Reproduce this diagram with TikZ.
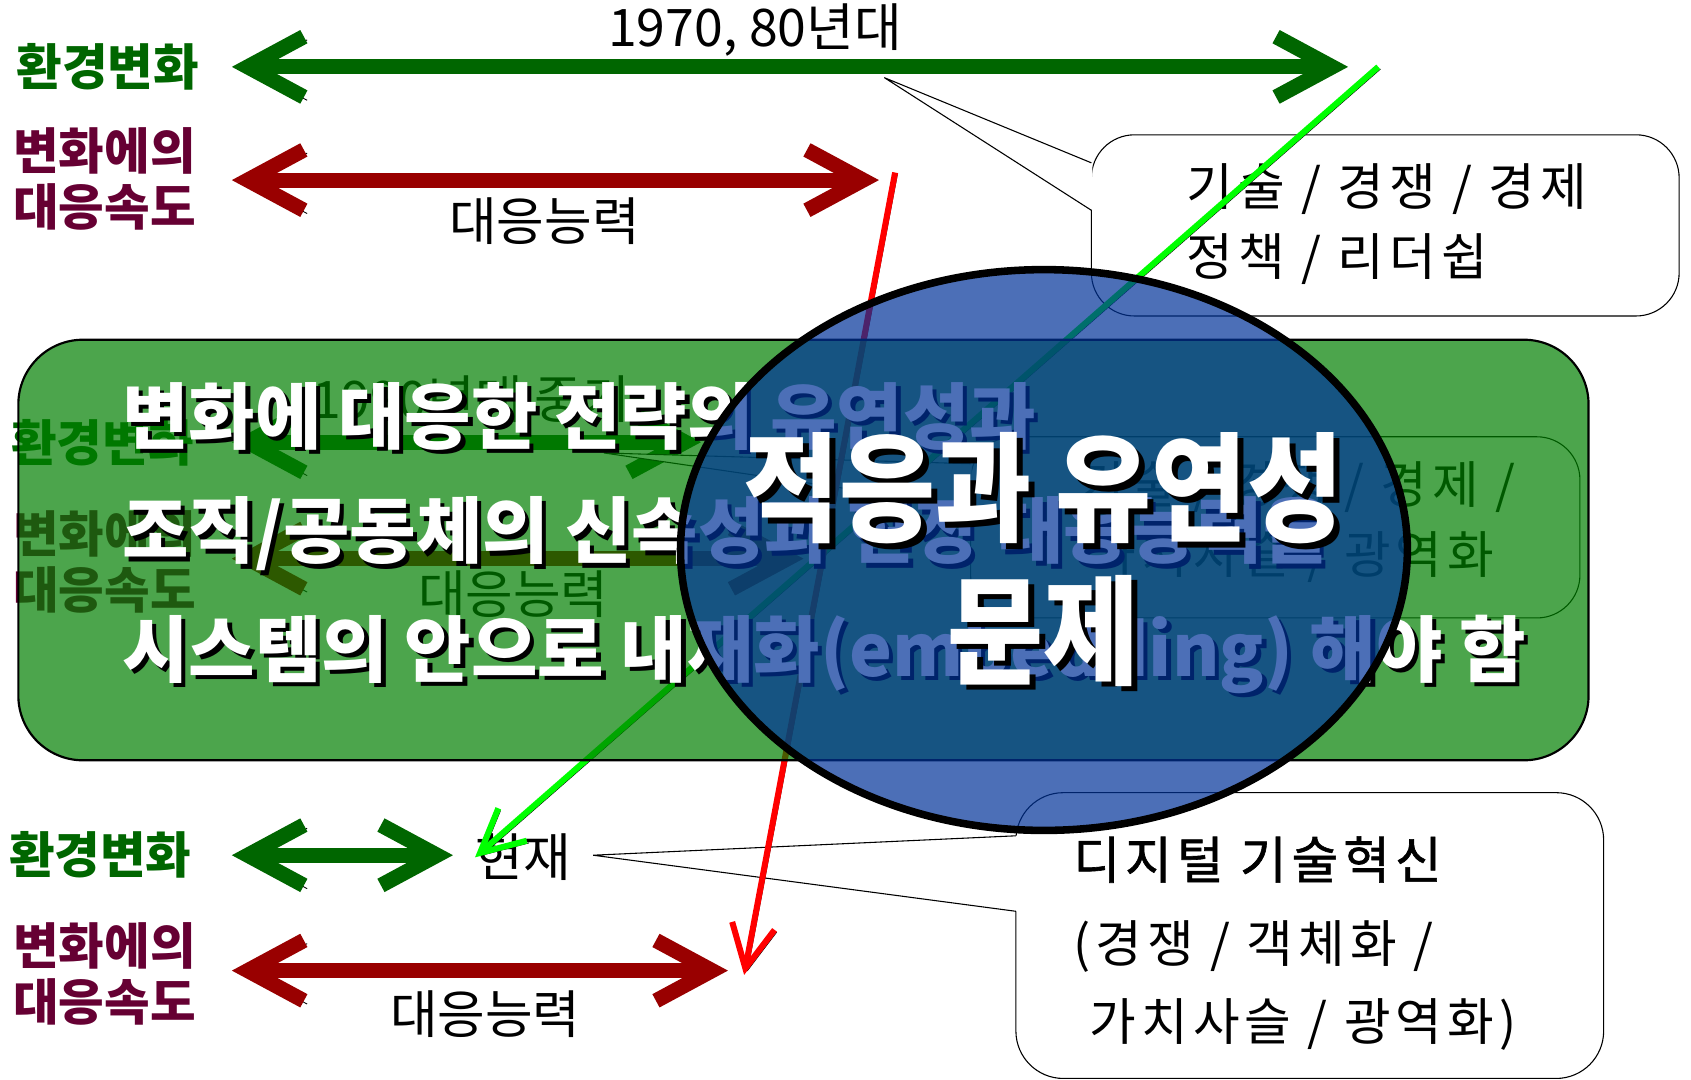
\documentclass[tikz,border=0pt]{standalone}
\usepackage{fontspec}
\usepackage{tikz}
\usetikzlibrary{arrows.meta}

\newfontfamily\kr{Noto Sans CJK KR}
\newfontfamily\krnote[LetterSpace=10]{Noto Sans CJK KR}
\newfontfamily\krnotebold[LetterSpace=10,FakeBold=1.2]{Noto Sans CJK KR}
\newfontfamily\krhead[FakeStretch=0.88]{Noto Sans CJK KR}

\definecolor{envgreen}{RGB}{0,102,0}
\definecolor{speedred}{RGB}{102,0,51}
\definecolor{abilityred}{RGB}{153,0,0}
\definecolor{panelgreen}{RGB}{0,128,0}
\definecolor{ovalblue}{RGB}{0,51,153}
\definecolor{limeline}{RGB}{0,255,0}
\definecolor{redline}{RGB}{255,0,0}

% white text with a black drop shadow
\newcommand{\shadowtext}[5]{%
  \node[#3, text=black, xshift=#4, yshift=-#4] (#1s) at #2 {#5};
  \node[#3, text=white] (#1) at #2 {#5};}

\tikzset{
  side label/.style={font=\kr\bfseries\fontsize{23pt}{26pt}\selectfont, inner sep=0pt, align=center},
  time label/.style={font=\kr\fontsize{24pt}{26pt}\selectfont, inner sep=0pt},
  note text/.style={font=\krnote\fontsize{23.5pt}{26pt}\selectfont, inner sep=0pt, anchor=west},
  note head/.style={font=\krnotebold\fontsize{23.5pt}{26pt}\selectfont, inner sep=0pt, anchor=west},
  span arrow/.style={line width=7pt, >={Straight Barb[length=26pt,width=28pt]}, <->,
    preaction={draw=black, transform canvas={shift={(1.5pt,-1.5pt)}}}},
  pointer line/.style={line width=2.8pt, ->, >={Straight Barb[length=20pt,width=20pt]},
    preaction={draw=black, transform canvas={shift={(1pt,-1pt)}}}},
  callout box/.style={draw=black, line width=0.5pt, fill=white, rounded corners=20pt},
  callout tail/.style={draw=black, line width=0.5pt},
  panel/.style={draw=black, line width=1pt, fill=panelgreen, fill opacity=0.7, rounded corners=30pt},
  oval/.style={draw=black, line width=3.5pt, fill=ovalblue, fill opacity=0.7},
  panel text/.style={font=\kr\bfseries\fontsize{33.5pt}{36pt}\selectfont, inner sep=0pt, anchor=west},
  oval text/.style={font=\krhead\bfseries\fontsize{55pt}{60pt}\selectfont, inner sep=0pt}
}

\begin{document}
\begin{tikzpicture}[x=0.5pt, y=-0.5pt]

\fill[white] (0,0) rectangle (1568,1001);
\useasboundingbox (0,0) rectangle (1568,1001);

% 1990s, under the panel
\node[time label] (era2) at (437,370) {1990년대 중기};
\node[side label, envgreen] (env2) at (95,411) {환경변화};
\node[side label, speedred] (spd2) at (97,521) {변화에의\\대응속도};
\node[time label] (cap2) at (476,551) {대응능력};
\coordinate (env2a) at (215,410);
\coordinate (env2b) at (650,410);
\coordinate (spd2a) at (215,518);
\coordinate (spd2b) at (745,518);
\draw[span arrow, envgreen] (env2a) -- (env2b);
\draw[span arrow, abilityred] (spd2a) -- (spd2b);
\coordinate (tail2) at (560,420);
\draw[callout box] (900,405) rectangle (1465,573);
\fill[white] (901,430) -- (tail2) -- (901,470) -- cycle;
\draw[callout tail] (900,430) -- (tail2) -- (900,470);
\node[note text] (mid1) at (1000,452) {기술 / 경쟁 / 경제 /};
\node[note text] (mid2) at (1010,517) {가치사슬 / 광역화};

% 1970, 80s
\node[time label] (era1) at (700,28) {1970, 80년대};
\node[side label, envgreen] (env1) at (100,62) {환경변화};
\node[side label, speedred] (spd1) at (97,166) {변화에의\\대응속도};
\node[time label] (cap1) at (505,205) {대응능력};
\coordinate (env1a) at (215,62);
\coordinate (env1b) at (1250,62);
\coordinate (spd1a) at (215,167);
\coordinate (spd1b) at (815,167);
\draw[span arrow, envgreen] (env1a) -- (env1b);
\draw[span arrow, abilityred] (spd1a) -- (spd1b);

\coordinate (tail1) at (820,72);
\draw[callout box] (1012,125) rectangle (1557,293);
\fill[white] (1013,151) -- (tail1) -- (1013,195) -- cycle;
\draw[callout tail] (1012,151) -- (tail1) -- (1012,195);
\node[note text] (top1) at (1100,175) {기술 / 경쟁 / 경제};
\node[note text] (top2) at (1100,240) {정책 / 리더쉽};

% today
\node[side label, envgreen] (env3) at (93,793) {환경변화};
\node[side label, speedred] (spd3) at (97,903) {변화에의\\대응속도};
\node[time label] (now) at (485,795) {현재};
\node[time label] (cap3) at (450,940) {대응능력};
\coordinate (env3a) at (215,793);
\coordinate (env3b) at (420,793);
\coordinate (spd3a) at (215,900);
\coordinate (spd3b) at (675,900);
\draw[span arrow, envgreen] (env3a) -- (env3b);
\draw[span arrow, abilityred] (spd3a) -- (spd3b);

\coordinate (tail3) at (550,793);
\draw[callout box, rounded corners=22pt] (942,735) rectangle (1487,1000);
\fill[white] (943,775) -- (tail3) -- (943,845) -- cycle;
\draw[callout tail] (942,775) -- (tail3) -- (942,845);
\node[note head] (low1) at (995,797) {디지털 기술혁신};
\node[note text] (low2) at (995,878) {(경쟁 / 객체화 /};
\node[note text] (low3) at (1010,950) {가치사슬 / 광역화)};

% shifts
\coordinate (limetop) at (1278,62);
\coordinate (redtop) at (830,160);
\coordinate (redend) at (690,904);
\draw[pointer line, limeline] (limetop) -- (now.west);
\draw[pointer line, redline] (redtop) -- (redend);

% panel
\draw[panel] (17,315) rectangle (1473,705);
\shadowtext{pl1}{(113,386)}{panel text}{2pt}{변화에 대응한 전략의 유연성과}
\shadowtext{pl2}{(113,495)}{panel text}{2pt}{조직/공동체의 신속성과 현장 대응능력을}
\shadowtext{pl3}{(113,607)}{panel text}{2pt}{시스템의 안으로 내재화(embedding) 해야 함}

% oval
\draw[oval] (968,510) ellipse [x radius=337, y radius=260];
\shadowtext{ov1}{(968,453)}{oval text}{2.5pt}{적응과 유연성}
\shadowtext{ov2}{(968,585)}{oval text}{2.5pt}{문제}

\end{tikzpicture}
\end{document}
